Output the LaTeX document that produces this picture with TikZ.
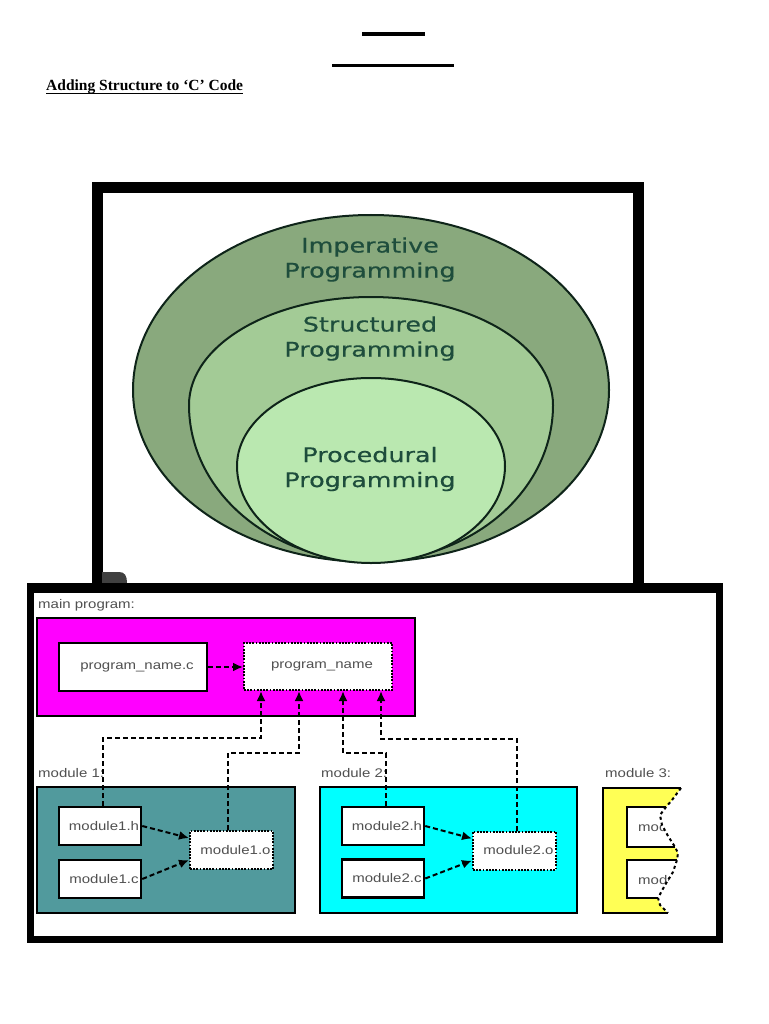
\documentclass[tikz,border=0pt]{standalone}
\usepackage{fontspec}
\setmainfont{Liberation Serif}
\newfontfamily\ellfont[FakeBold=0.4]{DejaVu Sans}
\newfontfamily\diafont{Liberation Sans}
\usetikzlibrary{arrows.meta}
\definecolor{outerg}{HTML}{89A97D}
\definecolor{midg}{HTML}{A3CB96}
\definecolor{inng}{HTML}{BAE8B0}
\definecolor{elltext}{HTML}{1E4D3C}
\definecolor{ellline}{HTML}{0E2419}
\definecolor{tealbox}{HTML}{519A9D}
\definecolor{magbox}{HTML}{FF00FF}
\definecolor{cyanbox}{HTML}{00FFFF}
\definecolor{yelbox}{HTML}{FFFF55}
\definecolor{txtgray}{HTML}{505050}
\newcommand{\hstretch}[2][1.2]{\scalebox{#1}[1]{#2}}
\begin{document}
\begin{tikzpicture}[x=1pt,y=-1pt,
  ell/.style={draw=ellline,line width=2pt},
  elllabel/.style={font=\ellfont\fontsize{20}{25}\selectfont,text=elltext,align=center,inner sep=0pt},
  lbl/.style={font=\diafont\fontsize{12.5}{14}\selectfont,text=txtgray,anchor=west,inner sep=0pt},
  container/.style={draw=black,line width=2pt,inner sep=0pt},
  filebox/.style={draw=black,fill=white,line width=2.5pt,minimum width=82pt,minimum height=38pt,inner sep=0pt,font=\diafont\fontsize{12.5}{14}\selectfont,text=txtgray},
  outbox/.style={filebox,line width=2pt,dash pattern=on 1.8pt off 1.4pt},
  conn/.style={draw=black,line width=2pt,dash pattern=on 5pt off 3pt,-{Latex[length=10pt,width=9pt]}},
  torn/.style={draw=black,line width=2pt,dash pattern=on 3pt off 3pt},
]
\useasboundingbox (0,0) rectangle (768,1024);
\fill[white] (0,0) rectangle (768,1024);

% header
\draw[line width=3.5pt] (362,34) -- (425,34);
\draw[line width=2.3pt] (332,65.5) -- (454,65.5);
\node[anchor=base west,font=\bfseries\fontsize{15.5}{18}\selectfont,inner sep=0pt] (title) at (46,91) {Adding Structure to ‘C’ Code};
\draw[line width=1pt] ([yshift=-3pt]title.base west) -- ([yshift=-3pt]title.base east);

% nested ellipses
\path[ell,fill=outerg] (133,390) arc[start angle=180,end angle=360,x radius=238,y radius=175] arc[start angle=0,end angle=180,x radius=238,y radius=172] -- cycle;
\path[ell,fill=midg] (189,405) arc[start angle=180,end angle=360,x radius=182,y radius=108] arc[start angle=0,end angle=180,x radius=182,y radius=156] -- cycle;
\path[ell,fill=inng] (237,466) arc[start angle=180,end angle=360,x radius=134,y radius=88] arc[start angle=0,end angle=180,x radius=134,y radius=97] -- cycle;
\node[elllabel] (imp) at (370,259.5) {\hstretch[1.27]{Imperative}\\\hstretch[1.27]{Programming}};
\node[elllabel] (str) at (370,338.5) {\hstretch[1.27]{Structured}\\\hstretch[1.27]{Programming}};
\node[elllabel] (proc) at (370,469) {\hstretch[1.27]{Procedural}\\\hstretch[1.27]{Programming}};

% top frame
\draw[line width=11pt] (97.5,588) -- (97.5,188) -- (638,188) -- (638,588);
\fill[black!75] (102,583) -- (102,572) -- (119,572) .. controls (125,572) and (127,576) .. (127,583) -- cycle;

% bottom frame
\draw[line width=7pt,fill=white] (30.5,586.5) rectangle (719.5,939.5);
\draw[line width=10pt] (27,588) -- (723,588);

% main program
\node[lbl] (mainlbl) at (38,605) {\hstretch{main program:}};
\node[container,fill=magbox,minimum width=378pt,minimum height=98pt] (mainbox) at (226,667) {};
\node[filebox,minimum width=148pt,minimum height=48pt] (pnc) at (133,667) {\hspace*{8pt}\hstretch{program\_name.c}};
\node[outbox,minimum width=148pt,minimum height=47pt] (pn) at (318,666.5) {\hspace*{8pt}\hstretch{program\_name}};
\draw[conn] (pnc.east) -- (pnc.east -| pn.west);

% module 1
\node[lbl] (m1lbl) at (38,773) {\hstretch{module 1:}};
\node[container,fill=tealbox,minimum width=258pt,minimum height=126pt] (m1) at (166,850) {};
\node[filebox] (m1h) at (100,826) {\hspace*{8pt}\hstretch{module1.h}};
\node[filebox] (m1c) at (100,879) {\hspace*{8pt}\hstretch{module1.c}};
\node[outbox,minimum width=83pt] (m1o) at (231.5,850) {\hspace*{8pt}\hstretch{module1.o}};
\draw[conn] (m1h.east) -- ([yshift=12pt]m1o.west);
\draw[conn] (m1c.east) -- ([yshift=-10pt]m1o.west);

% module 2
\node[lbl] (m2lbl) at (321,773) {\hstretch{module 2:}};
\node[container,fill=cyanbox,minimum width=257pt,minimum height=126pt] (m2) at (448.5,850) {};
\node[filebox] (m2h) at (383,826) {\hspace*{8pt}\hstretch{module2.h}};
\node[filebox] (m2c) at (383,878.5) {\hspace*{8pt}\hstretch{module2.c}};
\node[outbox,minimum width=83pt] (m2o) at (514.5,850.5) {\hspace*{8pt}\hstretch{module2.o}};
\draw[conn] (m2h.east) -- ([yshift=12pt]m2o.west);
\draw[conn] (m2c.east) -- ([yshift=-10pt]m2o.west);

% links to program_name
\coordinate (j1) at (261,738);
\coordinate (j2) at (299,753);
\coordinate (j3) at (343,753);
\coordinate (j4) at (381,739);
\draw[conn] ([xshift=3pt]m1h.north) |- (j1) -- (j1 |- pn.south);
\draw[conn] ([xshift=-3.5pt]m1o.north) |- (j2) -- (j2 |- pn.south);
\draw[conn] ([xshift=3pt]m2h.north) |- (j3) -- (j3 |- pn.south);
\draw[conn] ([xshift=2.5pt]m2o.north) |- (j4) -- (j4 |- pn.south);

% module 3 (torn)
\node[lbl] (m3lbl) at (605,773) {\hstretch{module 3:}};
\fill[yelbox] (603,788) -- (681,788) -- (672,800) -- (666,807) -- (627,807) -- (627,847) -- (675,847) -- (678,853) -- (677,860) -- (627,860) -- (627,898) -- (658,898) -- (660,905) -- (668,913) -- (603,913) -- cycle;
\begin{scope}
\clip (627,807) -- (666,807) -- (660,815) -- (662,825) -- (668,836) -- (675,847) -- (627,847) -- cycle;
\node[lbl] (m3h) at (638,827) {\hstretch{module3.h}};
\end{scope}
\begin{scope}
\clip (627,860) -- (677,860) -- (673,872) -- (665,885) -- (658,898) -- (627,898) -- cycle;
\node[lbl] (m3c) at (638,880) {\hstretch{module3.c}};
\end{scope}
\draw[line width=2pt] (681,788) -- (603,788) -- (603,913) -- (668,913);
\draw[line width=2pt] (666,807) -- (627,807) -- (627,847) -- (675,847);
\draw[line width=2pt] (677,860) -- (627,860) -- (627,898) -- (658,898);
\draw[torn] (681,788) -- (672,800) -- (666,807) -- (660,815) -- (662,825) -- (668,836) -- (675,847) -- (678,853) -- (677,860) -- (673,872) -- (665,885) -- (658,898) -- (660,905) -- (668,913);
\end{tikzpicture}
\end{document}
